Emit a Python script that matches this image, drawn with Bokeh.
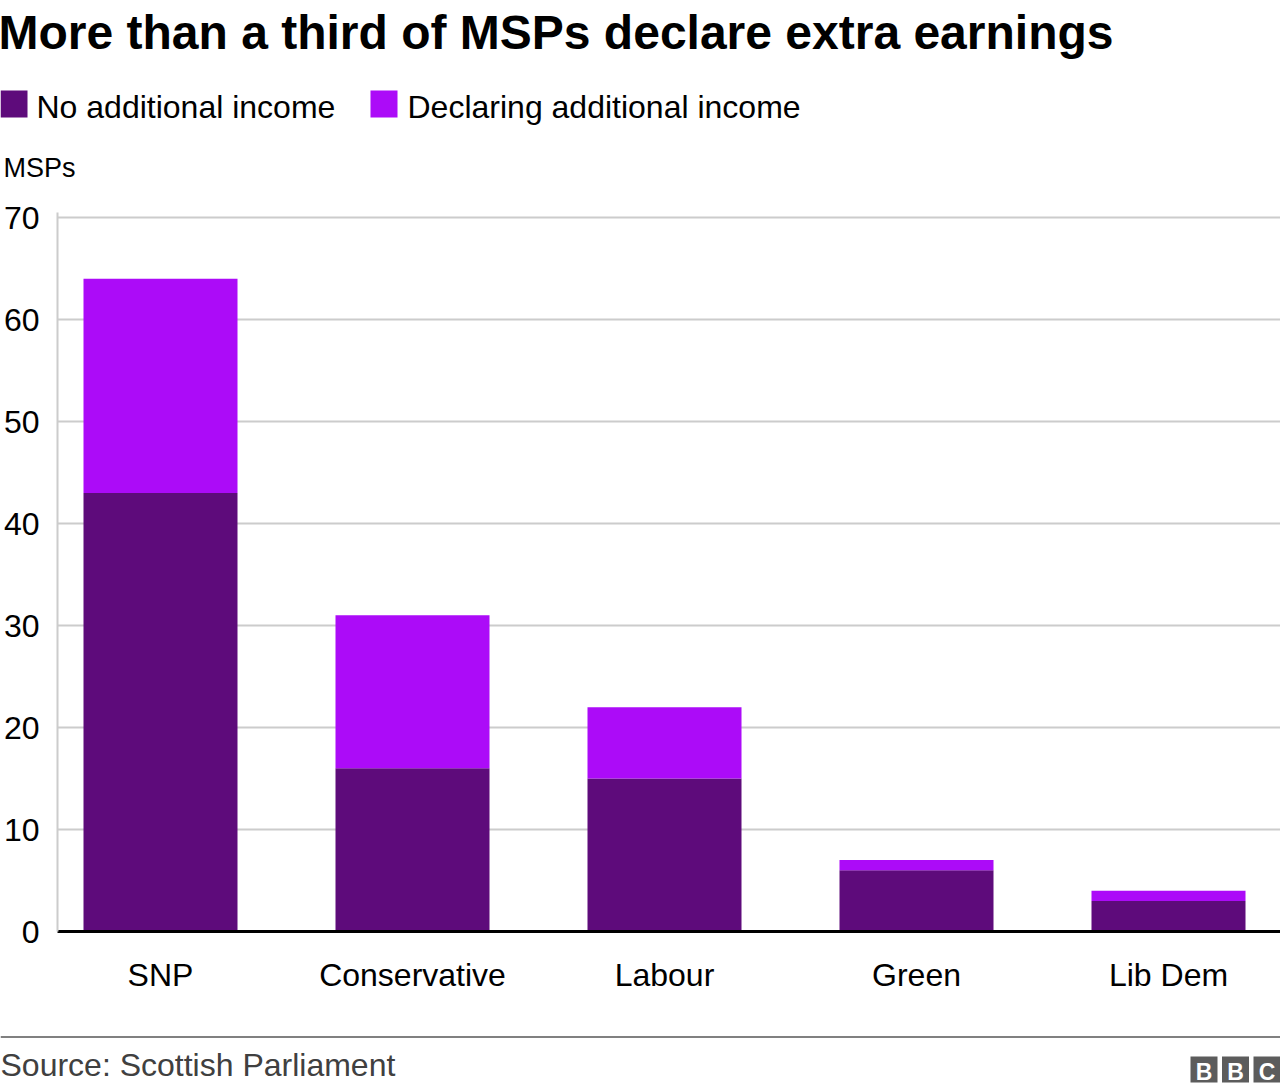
from bokeh.plotting import figure
from bokeh.layouts import column
from bokeh.models import ColumnDataSource, Range1d, FixedTicker
from bokeh.core.properties import value
from bokeh.embed import file_html
from bokeh.resources import INLINE

# ---- data ----
parties = ["SNP", "Conservative", "Labour", "Green", "Lib Dem"]
no_additional = [43, 16, 15, 6, 3]
declaring = [21, 15, 7, 1, 1]
y_ticks = [0, 10, 20, 30, 40, 50, 60, 70]

title_text = "More than a third of MSPs declare extra earnings"
series_names = ["No additional income", "Declaring additional income"]
y_title = "MSPs"
source_text = "Source: Scottish Parliament"
logo_letters = ["B", "B", "C"]

# ---- style / layout (canvas pixel coordinates) ----
DARK = "#5e0b7b"
BRIGHT = "#ac0bf8"
COLORS = [DARK, BRIGHT]
FONT = "Liberation Sans"

W, H = 1280, 1092
HEAD_BOTTOM = 190
FT, FB = 212, 931        # plot frame top / bottom
FL = 57                  # plot frame left
MAIN_BOTTOM = 1020
X0, STEP = 160, 252
x_start = -(X0 - FL) / STEP
x_end = (W - X0) / STEP
y_end = 70.5


def blank_fig(y0, y1):
    f = figure(width=W, height=y1 - y0, x_range=Range1d(0, W), y_range=Range1d(y1, y0),
               output_backend="svg", toolbar_location=None,
               x_axis_type=None, y_axis_type=None,
               min_border=0, min_border_left=0, min_border_right=0,
               min_border_top=0, min_border_bottom=0, frame_align=False)
    f.outline_line_color = None
    f.xgrid.visible = False
    f.ygrid.visible = False
    return f


# ---- header ----
head = blank_fig(0, HEAD_BOTTOM)
head.text(x=[-2], y=[32], text=[title_text], text_font=value(FONT),
          text_font_size=value("48px"), text_font_style="bold",
          text_color="black", text_baseline="alphabetic")
sq_left = [0, 370]
txt_left = [36, 407]
head.quad(left=sq_left, right=[v + 27 for v in sq_left], top=[90, 90], bottom=[117, 117],
          fill_color=COLORS, line_color=None)
head.text(x=txt_left, y=[106, 106], text=series_names, text_font=value(FONT),
          text_font_size=value("32px"), text_color="black", text_baseline="alphabetic")
head.text(x=[3], y=[167], text=[y_title], text_font=value(FONT),
          text_font_size=value("27px"), text_color="black", text_baseline="alphabetic")

# ---- main chart ----
src = ColumnDataSource(dict(x=list(range(len(parties))), no=no_additional, yes=declaring))

p = figure(width=W, height=MAIN_BOTTOM - HEAD_BOTTOM, x_range=Range1d(x_start, x_end),
           y_range=Range1d(0, y_end), output_backend="svg", toolbar_location=None,
           min_border_left=FL, min_border_right=0, min_border_top=FT - HEAD_BOTTOM,
           min_border_bottom=MAIN_BOTTOM - FB, frame_align=False)
p.outline_line_color = None

rs = p.vbar_stack(["no", "yes"], x="x", width=154 / STEP, color=COLORS,
                  line_color=None, source=src)

xa = p.xaxis[0]
xa.ticker = FixedTicker(ticks=list(range(len(parties))))
xa.major_label_overrides = {i: n for i, n in enumerate(parties)}
xa.axis_line_color = "black"
xa.axis_line_width = 3
xa.major_tick_line_color = None
xa.minor_tick_line_color = None
xa.major_label_text_font = FONT
xa.major_label_text_font_size = "32px"
xa.major_label_text_color = "black"
xa.major_label_standoff = 19

ya = p.yaxis[0]
ya.ticker = FixedTicker(ticks=y_ticks)
ya.axis_line_color = "#cccccc"
ya.axis_line_width = 2
ya.major_tick_line_color = None
ya.minor_tick_line_color = None
ya.major_label_text_font = FONT
ya.major_label_text_font_size = "32px"
ya.major_label_text_color = "black"
ya.major_label_standoff = 12

p.xgrid.visible = False
p.ygrid.ticker = FixedTicker(ticks=y_ticks)
p.ygrid.grid_line_color = "#cccccc"
p.ygrid.grid_line_width = 2

# ---- footer ----
foot = blank_fig(MAIN_BOTTOM, H)
foot.quad(left=[0], right=[W], top=[1035.5], bottom=[1037.5],
          fill_color="#808080", line_color=None)
foot.text(x=[0], y=[1064], text=[source_text], text_font=value(FONT),
          text_font_size=value("32px"), text_color="#404040", text_baseline="alphabetic")
logo_left = [1190, 1221.5, 1253]
foot.quad(left=logo_left, right=[v + 27 for v in logo_left], top=[1056] * 3,
          bottom=[1082] * 3, fill_color="#5c5c5c", line_color=None)
foot.text(x=[v + 13.5 for v in logo_left], y=[1071] * 3, text=logo_letters,
          text_font=value(FONT), text_font_size=value("23px"), text_font_style="bold",
          text_color="white", text_align="center", text_baseline="alphabetic")

layout = column(head, p, foot, spacing=0)

open("out.html", "w").write(file_html(layout, INLINE))
